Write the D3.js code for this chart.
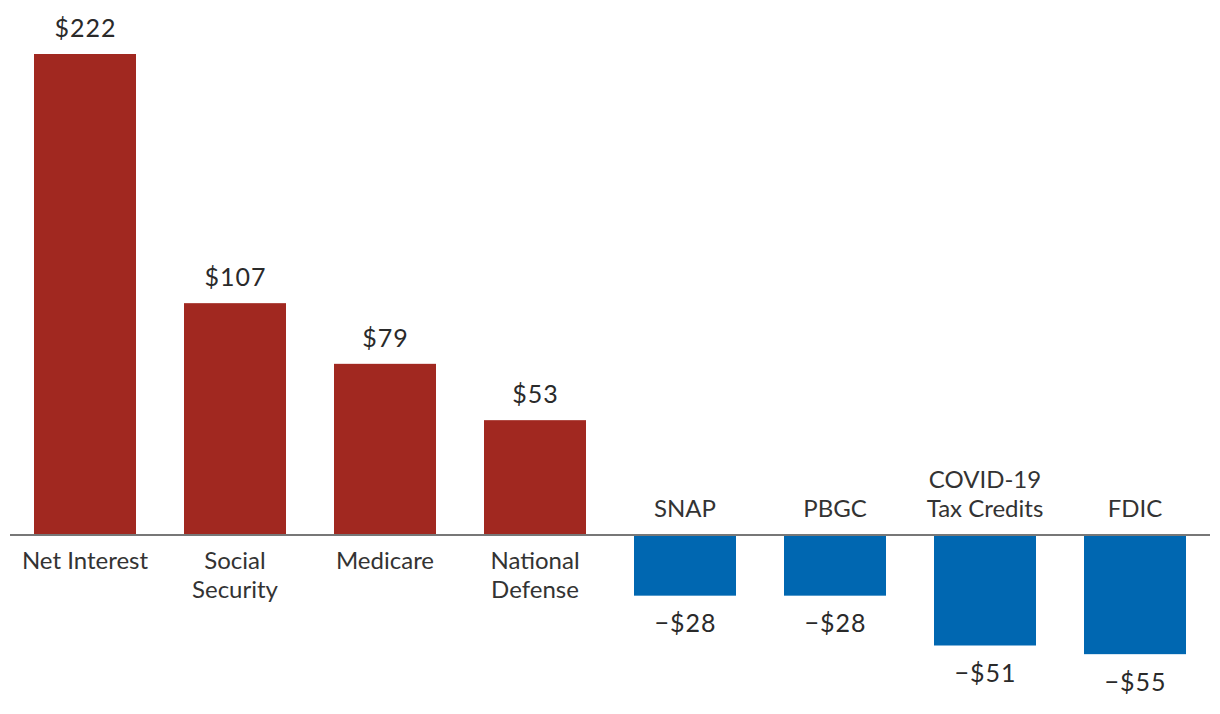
<!DOCTYPE html>
<html>
<head>
<meta charset="utf-8">
<script src="https://cdn.jsdelivr.net/npm/d3@7"></script>
<style>
  html, body { margin: 0; padding: 0; background: #fff; }
  svg { display: block; font-family: Lato, "Open Sans", sans-serif; }
</style>
</head>
<body>
<svg id="chart" width="1220" height="714"></svg>
<script>
const categories = [
  ["Net Interest"], ["Social", "Security"], ["Medicare"], ["National", "Defense"],
  ["SNAP"], ["PBGC"], ["COVID-19", "Tax Credits"], ["FDIC"]
];
const values = [222, 107, 79, 53, -28, -28, -51, -55];
const valueLabels = ["$222", "$107", "$79", "$53", "\u2212$28", "\u2212$28", "\u2212$51", "\u2212$55"];

const svg = d3.select("#chart");
const x = d3.scaleBand().domain(d3.range(values.length)).range([10, 1210])
  .paddingInner(0.32).paddingOuter(0.16);
const y = d3.scaleLinear().domain([0, 222]).range([535, 54]);

svg.selectAll("rect.bar").data(values).join("rect")
  .attr("class", "bar")
  .attr("x", (d, i) => x(i))
  .attr("width", x.bandwidth())
  .attr("y", d => d >= 0 ? y(d) : y(0))
  .attr("height", d => Math.abs(y(d) - y(0)))
  .attr("fill", d => d >= 0 ? "#a12820" : "#0067b1");

svg.append("line")
  .attr("x1", 10).attr("x2", 1210)
  .attr("y1", y(0)).attr("y2", y(0))
  .attr("stroke", "#777").attr("stroke-width", 2);

// value labels
svg.selectAll("text.val").data(values).join("text")
  .attr("class", "val")
  .attr("x", (d, i) => x(i) + x.bandwidth() / 2 + 0.5)
  .attr("y", d => d >= 0 ? y(d) - 17 : y(d) + 36.5)
  .attr("text-anchor", "middle")
  .attr("font-size", 25)
  .attr("letter-spacing", 1)
  .attr("fill", "#2a2a2a")
  .text((d, i) => valueLabels[i]);

// category labels
const lh = 28.5;
const cat = svg.selectAll("text.cat").data(categories).join("text")
  .attr("class", "cat")
  .attr("text-anchor", "middle")
  .attr("font-size", 24)
  .attr("fill", "#333")
  .attr("transform", (d, i) => {
    const cx = x(i) + x.bandwidth() / 2;
    const base = values[i] >= 0 ? y(0) + 34 : y(0) - 18.5 - (d.length - 1) * lh;
    return `translate(${cx},${base})`;
  });
cat.selectAll("tspan").data(d => d).join("tspan")
  .attr("x", 0)
  .attr("dy", (d, j) => j === 0 ? 0 : lh)
  .text(d => d);
</script>
</body>
</html>
